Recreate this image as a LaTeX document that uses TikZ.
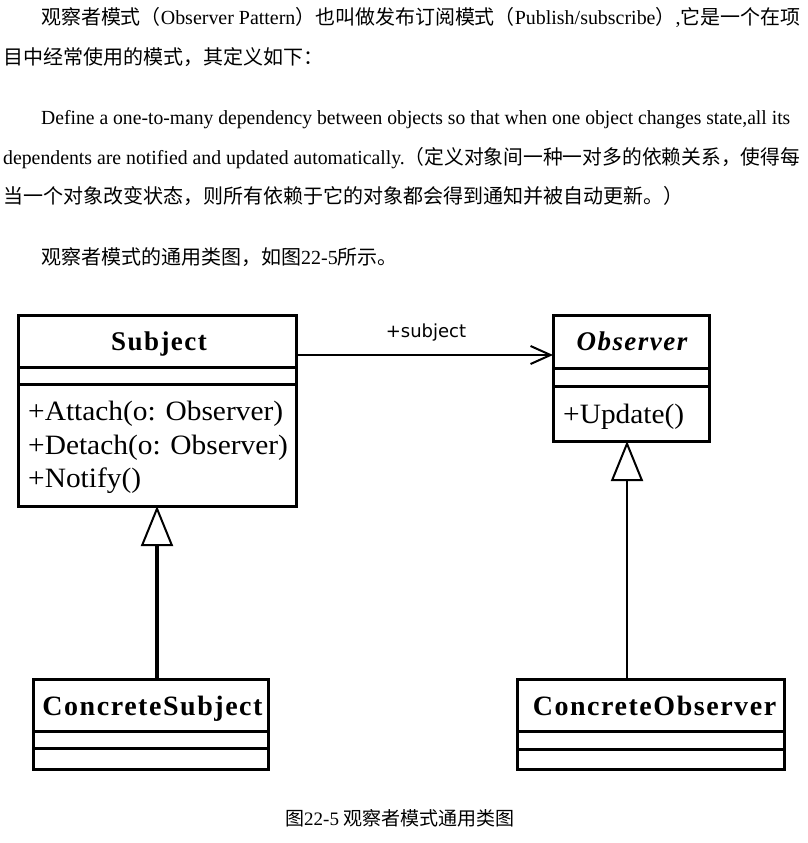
\documentclass[tikz,border=0pt]{standalone}
\usepackage{fontspec}
\setmainfont{Liberation Serif}
\newfontfamily\cjk{Noto Sans CJK SC}
\newfontfamily\umlname[LetterSpace=5.5]{Liberation Serif}
\newfontfamily\dvsans{DejaVu Sans}
\usetikzlibrary{arrows.meta}
\newcommand\en{\rmfamily}
\newcommand\opwide[1]{\scalebox{1.05}[1]{#1}}
\begin{document}
\begin{tikzpicture}[x=1pt,y=-1pt,
  bodytext/.style={anchor=base west,inner sep=0pt,font=\fontsize{20pt}{24pt}\selectfont},
  classbox/.style={draw,line width=3pt,rectangle,inner sep=0pt,outer sep=0pt},
  sepline/.style={line width=3pt},
  clsname/.style={anchor=base,inner sep=0pt,font=\umlname\fontsize{27pt}{30pt}\selectfont\bfseries},
  opname/.style={anchor=base west,inner sep=0pt,font=\fontsize{28pt}{32pt}\selectfont},
  assoc/.style={line width=2pt,-{Straight Barb[length=20pt,width=18pt,line width=2pt]}},
  gen/.style={-{Triangle[open,length=40pt,width=32pt,line width=2pt,fill=white]}},
]
\useasboundingbox (0,0) rectangle (808,843);
\fill[white] (0,0) rectangle (808,843);

% paragraph text
\node[bodytext] (l1) at (41,25) {\resizebox{759pt}{\height}{\cjk 观察者模式（\en Observer Pattern\cjk ）也叫做发布订阅模式（\en Publish/subscribe\cjk ）\en ,\cjk 它是一个在项}};
\node[bodytext] (l2) at (3,64) {\cjk 目中经常使用的模式，其定义如下：};
\node[bodytext] (l3) at (41,124) {\resizebox{749pt}{\height}{Define a one-to-many dependency between objects so that when one object changes state,all its}};
\node[bodytext] (l4) at (3,164) {\resizebox{797pt}{\height}{dependents are notified and updated automatically.\cjk （定义对象间一种一对多的依赖关系，使得每}};
\node[bodytext] (l5) at (3,203) {\cjk 当一个对象改变状态，则所有依赖于它的对象都会得到通知并被自动更新。）};
\node[bodytext] (l6) at (41,264) {\cjk 观察者模式的通用类图，如图\en 22-5\cjk 所示。};

% classes
\node[classbox,minimum width=278pt,minimum height=191pt] (subject) at (157,410.5) {};
\draw[sepline] ([yshift=-52pt]subject.north west) -- ([yshift=-52pt]subject.north east);
\draw[sepline] ([yshift=-69pt]subject.north west) -- ([yshift=-69pt]subject.north east);
\node[clsname] (subjectname) at (159,350) {Subject};
\node[opname] (op1) at (28,420) {\opwide{+Attach(o: Observer)}};
\node[opname] (op2) at (28,454) {\opwide{+Detach(o: Observer)}};
\node[opname] (op3) at (28,487) {\opwide{+Notify()}};

\node[classbox,minimum width=156pt,minimum height=126pt] (observer) at (631,378) {};
\draw[sepline] ([yshift=-53pt]observer.north west) -- ([yshift=-53pt]observer.north east);
\draw[sepline] ([yshift=-71pt]observer.north west) -- ([yshift=-71pt]observer.north east);
\node[clsname,font=\umlname\fontsize{27pt}{30pt}\selectfont\bfseries\itshape] (observername) at (632,350) {Observer};
\node[opname] (op4) at (563,423) {\opwide{+Update()}};

\node[classbox,minimum width=235pt,minimum height=90pt] (csubject) at (150.5,724) {};
\draw[sepline] ([yshift=-52pt]csubject.north west) -- ([yshift=-52pt]csubject.north east);
\draw[sepline] ([yshift=-69pt]csubject.north west) -- ([yshift=-69pt]csubject.north east);
\node[clsname,font=\umlname\fontsize{28pt}{30pt}\selectfont\bfseries] (csname) at (152.5,715) {ConcreteSubject};

\node[classbox,minimum width=267pt,minimum height=90pt] (cobserver) at (650.5,724) {};
\draw[sepline] ([yshift=-52pt]cobserver.north west) -- ([yshift=-52pt]cobserver.north east);
\draw[sepline] ([yshift=-70pt]cobserver.north west) -- ([yshift=-70pt]cobserver.north east);
\node[clsname,font=\umlname\fontsize{28pt}{30pt}\selectfont\bfseries] (coname) at (654.5,715) {ConcreteObserver};

% connectors
\draw[assoc] ([yshift=-40pt]subject.north east) -- ([yshift=-40pt]observer.north west);
\node[anchor=base,inner sep=0pt,font=\dvsans\fontsize{18pt}{20pt}\selectfont] (assoclabel) at (426,337) {+subject};
\draw[gen,line width=4pt] ([xshift=6.5pt]csubject.north) -- (subject.south);
\draw[gen,line width=2pt] ([xshift=-23.5pt]cobserver.north) -- ([xshift=-4pt]observer.south);

% caption
\node[anchor=base west,inner sep=0pt,font=\fontsize{19pt}{22pt}\selectfont] (caption) at (285,825) {\cjk 图\en 22-5 \cjk 观察者模式通用类图};
\end{tikzpicture}
\end{document}
